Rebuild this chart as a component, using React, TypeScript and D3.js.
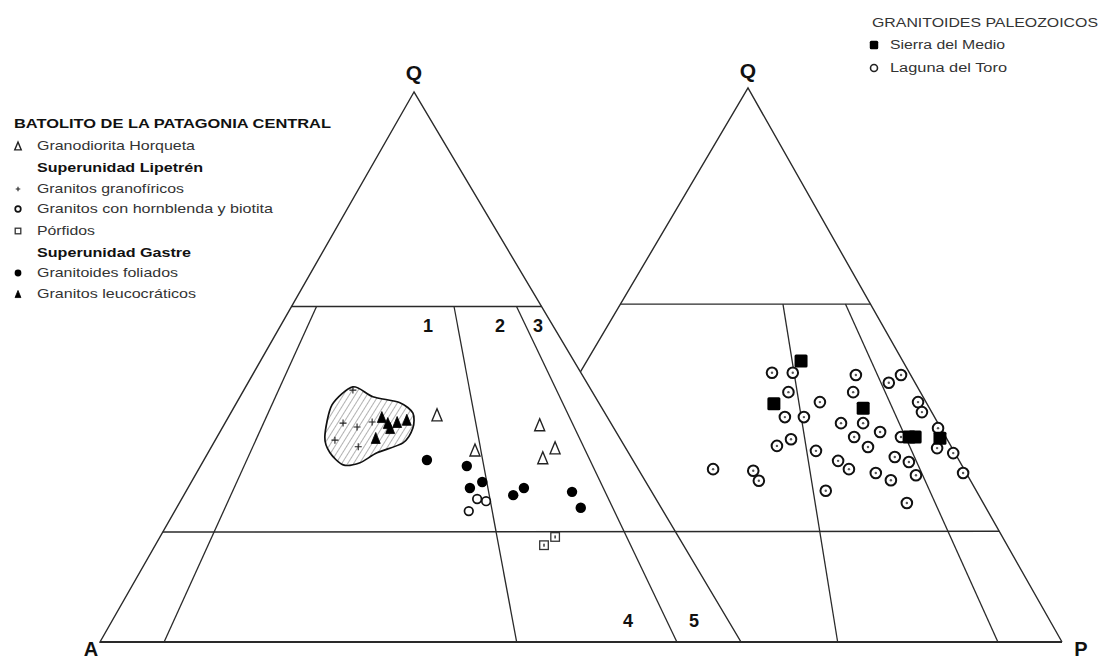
import React from "react";
import * as d3 from "d3";

// ---- Data: [Q %, P/(A+P) %] ----
const granodioritaHorqueta = [[41.3, 55.1], [34.9, 63.6], [39.5, 81.4], [35.3, 83.0], [33.5, 79.2]];
const granitosGranofiricos = [[39.8, 30.6], [39.1, 34.4], [40.0, 38.1], [45.8, 31.4], [35.5, 35.5], [36.7, 29.5]];
const granitosHornblenda = [[26.0, 62.3], [25.6, 64.1], [23.8, 60.2]];
const porfidos = [[17.6, 73.6], [19.1, 76.2]];
const granitoidesFoliados = [[33.1, 52.0], [32.0, 61.1], [28.0, 61.1], [29.1, 64.0], [26.7, 70.1], [28.0, 72.8], [27.3, 82.9], [24.4, 83.4]];
const granitosLeucocraticos = [[40.9, 40.5], [39.8, 42.2], [40.0, 44.6], [40.4, 47.1], [37.1, 39.5], [38.9, 42.9]];
const lipetrenField = [[37.3, 26.8], [43.1, 26.5], [46.4, 31.2], [44.6, 37.4], [43.5, 45.1], [41.6, 48.7], [38.9, 48.7], [36.2, 46.3], [34.4, 40.2], [32.6, 36.5], [32.2, 32.7], [34.4, 29.0]];

const sierraDelMedio = [[50.7, 67.8], [43.0, 58.1], [42.2, 82.1], [37.0, 90.9], [37.0, 92.4], [36.8, 98.4]];
const lagunaDelToro = [
  [48.6, 58.3], [48.6, 64.6], [45.1, 62.5], [43.3, 70.8], [40.6, 60.7], [40.6, 65.7], [48.2, 83.5], [45.1, 80.9],
  [46.8, 92.3], [48.2, 97.1], [43.3, 97.8], [41.5, 97.4], [38.6, 99.3], [39.5, 75.0], [39.5, 80.7], [37.9, 84.2],
  [37.0, 77.3], [37.0, 88.9], [35.2, 79.9], [35.4, 58.0], [36.6, 61.6], [34.5, 67.2], [32.7, 71.9], [31.2, 73.9],
  [33.4, 85.4], [32.5, 88.2], [35.0, 96.4], [34.1, 99.6], [31.2, 43.1], [30.9, 52.2], [29.1, 53.4], [30.5, 79.7],
  [29.2, 82.5], [30.1, 88.5], [30.5, 99.3], [27.3, 67.7], [25.1, 84.1],
];

// Field boundaries
const qLevels = [61, 20];
const leftRatios = [10, 65, 90];
const rightRatios = [65, 90];
const fieldLabelsTop = ["1", "2", "3"];
const fieldLabelsBottom = ["4", "5"];

const leftLegend = [
  { label: "BATOLITO DE LA PATAGONIA CENTRAL", bold: true, sym: null },
  { label: "Granodiorita Horqueta", bold: false, sym: "openTri" },
  { label: "Superunidad Lipetrén", bold: true, sym: null },
  { label: "Granitos granofíricos", bold: false, sym: "plus" },
  { label: "Granitos con hornblenda y biotita", bold: false, sym: "openCircle" },
  { label: "Pórfidos", bold: false, sym: "openSquare" },
  { label: "Superunidad Gastre", bold: true, sym: null },
  { label: "Granitoides foliados", bold: false, sym: "filledCircle" },
  { label: "Granitos leucocráticos", bold: false, sym: "filledTri" },
];
const rightLegendTitle = "GRANITOIDES PALEOZOICOS";
const rightLegend = ["Sierra del Medio", "Laguna del Toro"];

// ---- Geometry ----
type Tri = { Q: number[]; A: number[]; P: number[] };
const LEFT: Tri = { Q: [414, 92], A: [100, 642], P: [741, 642] };
const RIGHT: Tri = { Q: [748, 88], A: [421, 642], P: [1062, 642] };

function tern(t: Tri, q: number, r: number): [number, number] {
  const y = d3.scaleLinear().domain([0, 100]).range([t.A[1], t.Q[1]])(q);
  const xl = d3.scaleLinear().domain([0, 100]).range([t.A[0], t.Q[0]])(q);
  const xr = d3.scaleLinear().domain([0, 100]).range([t.P[0], t.Q[0]])(q);
  const x = d3.scaleLinear().domain([0, 100]).range([xl, xr])(r);
  return [x, y];
}

function intersect(p1: number[], p2: number[], p3: number[], p4: number[]): [number, number] {
  const d = (p1[0] - p2[0]) * (p3[1] - p4[1]) - (p1[1] - p2[1]) * (p3[0] - p4[0]);
  const a = p1[0] * p2[1] - p1[1] * p2[0];
  const b = p3[0] * p4[1] - p3[1] * p4[0];
  return [(a * (p3[0] - p4[0]) - (p1[0] - p2[0]) * b) / d, (a * (p3[1] - p4[1]) - (p1[1] - p2[1]) * b) / d];
}

const FONT = "'Liberation Sans', Arial, Helvetica, sans-serif";
const LINE = "#2a2a2a";

const line = d3.line<number[]>().x((d) => d[0]).y((d) => d[1]);

function Sym({ kind, x, y, s = 1 }: { kind: string; x: number; y: number; s?: number }) {
  switch (kind) {
    case "openTri": {
      const h = 12 * s, w = 10 * s;
      return <path d={`M${x},${y - h / 2}L${x + w / 2},${y + h / 2}L${x - w / 2},${y + h / 2}Z`} fill="#fff" stroke="#222" strokeWidth={1.4} />;
    }
    case "filledTri": {
      const h = 11 * s, w = 9 * s;
      return <path d={`M${x},${y - h / 2}L${x + w / 2},${y + h / 2}L${x - w / 2},${y + h / 2}Z`} fill="#000" stroke="#000" strokeWidth={0.8} />;
    }
    case "plus": {
      const a = 3.5 * s;
      return <path d={`M${x - a},${y}H${x + a}M${x},${y - a}V${y + a}`} stroke="#222" strokeWidth={1.1} />;
    }
    case "openCircle":
      return <circle cx={x} cy={y} r={4.3 * s} fill="#fff" stroke="#111" strokeWidth={1.7} />;
    case "filledCircle":
      return <circle cx={x} cy={y} r={5.2 * s} fill="#000" />;
    case "openSquare": {
      const a = 4.3 * s;
      return (
        <g>
          <rect x={x - a} y={y - a} width={2 * a} height={2 * a} fill="#fff" stroke="#333" strokeWidth={1.3} />
          {s >= 1 && <rect x={x - 0.8} y={y - 1.5} width={1.6} height={3} fill="#444" />}
        </g>
      );
    }
    case "filledSquare": {
      const a = 6.5 * s;
      return <rect x={x - a} y={y - a} width={2 * a} height={2 * a} rx={1.5} fill="#000" />;
    }
    case "dotCircle":
      return (
        <g>
          <circle cx={x} cy={y} r={5.3 * s} fill="#fff" stroke="#111" strokeWidth={2} />
          {s >= 1 && <circle cx={x} cy={y} r={1.2} fill="#555" />}
        </g>
      );
  }
  return null;
}

export default function App() {
  const leftEdgeR = intersect(LEFT.Q, LEFT.P, RIGHT.Q, RIGHT.A);
  const blobPts = lipetrenField.map((d) => tern(LEFT, d[0], d[1]));
  const blobPath = d3.line().curve(d3.curveCardinalClosed.tension(0.2))(blobPts as [number, number][]) || "";

  const legendYs = [128, 150, 172, 193, 213, 235, 257, 277, 298];
  const legendWidths = [317, 158, 166, 147, 236, 58, 154, 141, 159];

  return (
    <div style={{ position: "absolute", left: 0, top: 0 }}>
      <svg width={1102} height={661} style={{ display: "block", background: "#fff" }}>
        <defs>
          <pattern id="hatch" patternUnits="userSpaceOnUse" width={5} height={5} patternTransform="rotate(32)">
            <line x1={0} y1={0} x2={0} y2={5} stroke="#666" strokeWidth={1} />
          </pattern>
        </defs>

        {/* Left triangle outline */}
        <path d={line([LEFT.Q, LEFT.A, LEFT.P]) + "Z"} fill="none" stroke={LINE} strokeWidth={1.4} />
        {/* Right triangle outline (partial) */}
        <path d={line([leftEdgeR, RIGHT.Q, RIGHT.P]) || ""} fill="none" stroke={LINE} strokeWidth={1.4} />
        {/* Base */}
        <path d={line([LEFT.A, RIGHT.P]) || ""} fill="none" stroke={LINE} strokeWidth={1.8} />

        {/* Q60 lines */}
        <path d={line([tern(LEFT, qLevels[0], 0), tern(LEFT, qLevels[0], 100)]) || ""} stroke={LINE} strokeWidth={1.3} />
        <path d={line([tern(RIGHT, qLevels[0], 0), tern(RIGHT, qLevels[0], 100)]) || ""} stroke={LINE} strokeWidth={1.3} />
        {/* Q20 line */}
        <path d={line([tern(LEFT, qLevels[1], 0), tern(RIGHT, qLevels[1], 100)]) || ""} stroke={LINE} strokeWidth={1.5} />

        {leftRatios.map((r) => (
          <path key={"l" + r} d={line([tern(LEFT, qLevels[0], r), tern(LEFT, 0, r)]) || ""} stroke={LINE} strokeWidth={1.3} />
        ))}
        {rightRatios.map((r) => (
          <path key={"r" + r} d={line([tern(RIGHT, qLevels[0], r), tern(RIGHT, 0, r)]) || ""} stroke={LINE} strokeWidth={1.3} />
        ))}

        {/* Vertex labels */}
        <text x={414} y={80} fontFamily={FONT} fontWeight="bold" fontSize={21} textAnchor="middle" fill="#111">Q</text>
        <text x={748} y={78} fontFamily={FONT} fontWeight="bold" fontSize={21} textAnchor="middle" fill="#111">Q</text>
        <text x={91} y={656} fontFamily={FONT} fontWeight="bold" fontSize={20} textAnchor="middle" fill="#111">A</text>
        <text x={1081} y={656} fontFamily={FONT} fontWeight="bold" fontSize={20} textAnchor="middle" fill="#111">P</text>

        {/* Field numbers */}
        {fieldLabelsTop.map((t, i) => (
          <text key={t} x={[428, 500, 538][i]} y={332} fontFamily={FONT} fontWeight="bold" fontSize={18} textAnchor="middle" fill="#111">{t}</text>
        ))}
        {fieldLabelsBottom.map((t, i) => (
          <text key={t} x={[628, 694][i]} y={627} fontFamily={FONT} fontWeight="bold" fontSize={18} textAnchor="middle" fill="#111">{t}</text>
        ))}

        {/* Lipetrén field */}
        <path d={blobPath} fill="url(#hatch)" stroke="#111" strokeWidth={1.7} />
        {granitosGranofiricos.map((d, i) => {
          const [x, y] = tern(LEFT, d[0], d[1]);
          return <Sym key={"gg" + i} kind="plus" x={x} y={y} />;
        })}
        {granitosLeucocraticos.map((d, i) => {
          const [x, y] = tern(LEFT, d[0], d[1]);
          return <Sym key={"gl" + i} kind="filledTri" x={x} y={y} />;
        })}

        {granodioritaHorqueta.map((d, i) => {
          const [x, y] = tern(LEFT, d[0], d[1]);
          return <Sym key={"gh" + i} kind="openTri" x={x} y={y} />;
        })}
        {granitoidesFoliados.map((d, i) => {
          const [x, y] = tern(LEFT, d[0], d[1]);
          return <Sym key={"gf" + i} kind="filledCircle" x={x} y={y} />;
        })}
        {granitosHornblenda.map((d, i) => {
          const [x, y] = tern(LEFT, d[0], d[1]);
          return <Sym key={"hb" + i} kind="openCircle" x={x} y={y} />;
        })}
        {porfidos.map((d, i) => {
          const [x, y] = tern(LEFT, d[0], d[1]);
          return <Sym key={"pf" + i} kind="openSquare" x={x} y={y} />;
        })}

        {lagunaDelToro.map((d, i) => {
          const [x, y] = tern(RIGHT, d[0], d[1]);
          return <Sym key={"lt" + i} kind="dotCircle" x={x} y={y} />;
        })}
        {sierraDelMedio.map((d, i) => {
          const [x, y] = tern(RIGHT, d[0], d[1]);
          return <Sym key={"sm" + i} kind="filledSquare" x={x} y={y} />;
        })}

        {/* Left legend */}
        {leftLegend.map((e, i) => (
          <g key={"lg" + i}>
            {e.sym && <Sym kind={e.sym} x={18} y={legendYs[i] - 4} s={0.65} />}
            <text
              x={i === 0 ? 14 : 37}
              y={legendYs[i]}
              fontFamily={FONT}
              fontWeight={e.bold ? "bold" : "normal"}
              fontSize={13}
              fill={e.bold ? "#111" : "#333"}
              textLength={legendWidths[i]}
              lengthAdjust="spacingAndGlyphs"
            >
              {e.label}
            </text>
          </g>
        ))}

        {/* Right legend */}
        <text x={872} y={27} fontFamily={FONT} fontSize={12.5} fill="#333" textLength={226} lengthAdjust="spacingAndGlyphs">{rightLegendTitle}</text>
        <Sym kind="filledSquare" x={874} y={45} s={0.65} />
        <text x={890} y={49} fontFamily={FONT} fontSize={12.5} fill="#333" textLength={115} lengthAdjust="spacingAndGlyphs">{rightLegend[0]}</text>
        <circle cx={874} cy={68} r={3.5} fill="#fff" stroke="#222" strokeWidth={1.6} />
        <text x={890} y={72} fontFamily={FONT} fontSize={12.5} fill="#333" textLength={117} lengthAdjust="spacingAndGlyphs">{rightLegend[1]}</text>
      </svg>
    </div>
  );
}
